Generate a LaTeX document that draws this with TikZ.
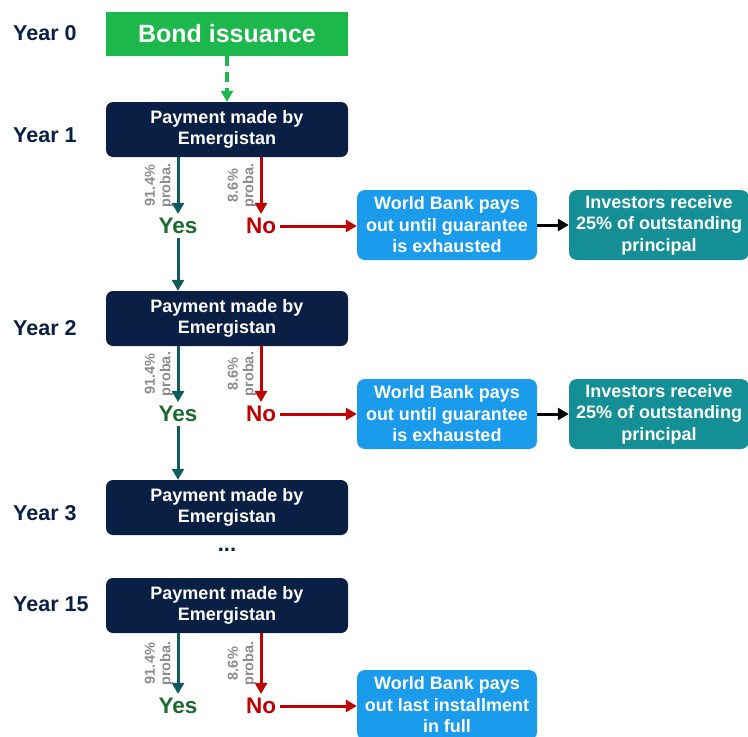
\documentclass[tikz,border=0pt]{standalone}
\usepackage{fontspec}
\setmainfont{Liberation Sans}
\usetikzlibrary{arrows.meta}
\definecolor{navy}{HTML}{0A1F44}
\definecolor{bondgreen}{HTML}{1CB84B}
\definecolor{bankblue}{HTML}{1A9BEC}
\definecolor{invteal}{HTML}{148F96}
\definecolor{yesteal}{HTML}{0F5A5C}
\definecolor{yesgreen}{HTML}{1B6B2E}
\definecolor{nored}{HTML}{C00000}
\definecolor{probagray}{HTML}{8C8C8C}
\newcommand\BoxFont{\bfseries\fontsize{18}{21.5}\selectfont}
\tikzstyle{payment}=[
  fill=navy,
  text=white,
  rounded corners=7pt,
  minimum width=242pt,
  minimum height=55pt,
  align=center,
  font=\BoxFont
]
\tikzstyle{bank}=[
  fill=bankblue,
  text=white,
  rounded corners=8pt,
  minimum width=180pt,
  minimum height=70pt,
  align=center,
  font=\BoxFont
]
\tikzstyle{investor}=[bank, fill=invteal]
\tikzstyle{bond}=[
  fill=bondgreen,
  text=white,
  minimum width=242pt,
  minimum height=44pt,
  font=\bfseries\fontsize{25}{29}\selectfont
]
\tikzstyle{year}=[anchor=west, text=navy, inner sep=0pt, font=\bfseries\fontsize{21.5}{25}\selectfont]
\tikzstyle{yes}=[text=yesgreen, inner sep=4pt, font=\bfseries\fontsize{22.5}{26}\selectfont]
\tikzstyle{no}=[yes, text=nored]
\tikzstyle{proba}=[
  rotate=90,
  anchor=south,
  inner sep=3pt,
  align=center,
  text=probagray,
  font=\bfseries\fontsize{14.5}{15.5}\selectfont
]
\tikzstyle{yesarrow}=[draw=yesteal, line width=3pt, -{Triangle[length=11pt,width=12pt]}]
\tikzstyle{noarrow}=[yesarrow, draw=nored, fill=nored]
\tikzstyle{blackarrow}=[yesarrow, draw=black, fill=black]
\tikzstyle{dasharrow}=[yesarrow, draw=bondgreen, fill=bondgreen, line width=4pt, dash pattern=on 10pt off 6pt]

\begin{document}
\begin{tikzpicture}[x=1pt, y=1pt]
  \def \PayX {227}
  \def \YesX {178}
  \def \NoX {261}
  \def \BankX {447}
  \def \InvX {659}

  \useasboundingbox (0,0) rectangle (748,-737);

  \node[bond] (bond) at (\PayX,-34) {Bond issuance};
  \node[year] (year0) at (13,-33) {Year 0};

  \foreach \n/\y/\ly in {1/129.5/135, 2/318.5/328, 3/507.5/513, 15/605.5/604}{
    \node[payment] (pay\n) at (\PayX,-\y) {Payment made by\\Emergistan};
    \node[year] (year\n) at (13,-\ly) {Year \n};
  }

  \draw[dasharrow] (bond) -- (pay1);

  \foreach \n/\y in {1/226, 2/414, 15/706}{
    \node[yes] (yes\n) at (\YesX,-\y) {Yes};
    \node[no] (no\n) at (\NoX,-\y) {No};
    \draw[yesarrow] (pay\n.south -| yes\n) -- (yes\n)
      node[midway, proba] {91.4\%\\proba.};
    \draw[noarrow] (pay\n.south -| no\n) -- (no\n)
      node[midway, proba] {8.6\%\\proba.};
  }

  % branches paid by the guarantee
  \foreach \n/\y in {1/225, 2/414}{
    \node[bank] (bank\n) at (\BankX,-\y) {World Bank pays\\out until guarantee\\is exhausted};
    \node[investor] (inv\n) at (\InvX,-\y) {Investors receive\\25\% of outstanding\\principal};
    \draw[noarrow] (no\n) -- (no\n -| bank\n.west);
    \draw[blackarrow] (bank\n) -- (inv\n);
  }
  \node[bank] (bank15) at (\BankX,-705) {World Bank pays\\out last installment\\in full};
  \draw[noarrow] (no15) -- (no15 -| bank15.west);

  \draw[yesarrow] (yes1) -- (yes1 |- pay2.north);
  \draw[yesarrow] (yes2) -- (yes2 |- pay3.north);

  \node[text=navy, font=\bfseries\fontsize{22}{24}\selectfont] (dots) at (\PayX,-550) {...};
\end{tikzpicture}
\end{document}
